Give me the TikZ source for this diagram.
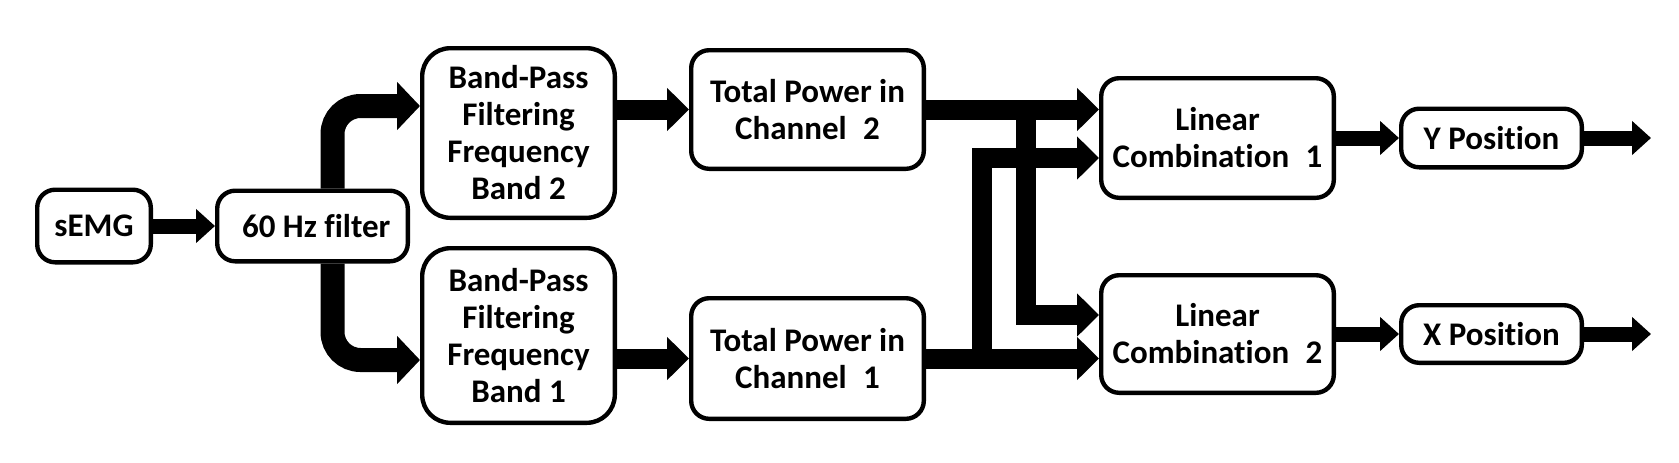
\documentclass[tikz,border=0pt]{standalone}
\usepackage{fontspec}
\setmainfont{Carlito}[Ligatures=NoCommon]
\usepackage{tikz}
\usetikzlibrary{positioning,arrows.meta}

\begin{document}
\begin{tikzpicture}[
  blk/.style={draw, line width=2.2pt, rounded corners=9pt, align=center, inner sep=2pt, font=\fontsize{16.5}{18.5}\selectfont\bfseries},
  bigblk/.style={blk, rounded corners=14pt, minimum width=96.3pt},
  fork/.style={line width=12pt, rounded corners=14pt, -{Triangle[length=11.5pt, width=23.5pt]}},
  fat/.style={line width=10pt, -{Triangle[length=11pt, width=21pt]}},
  slim/.style={line width=7.5pt, -{Triangle[length=9.5pt, width=16.5pt]}}
]
\useasboundingbox (0,0) rectangle (839.5pt,-231pt);

\node[blk, minimum width=56.8pt, minimum height=36.3pt] (semg) at (47pt,-113pt) {sEMG};
\node[blk, minimum width=95.3pt, minimum height=35.3pt, right=31pt of semg] (notch) {\ 60 Hz filter};
\node[bigblk, minimum height=84.8pt, right=5pt of notch, yshift=46.5pt] (bp2) {Band-Pass\\Filtering\\Frequency\\Band 2};
\node[bigblk, minimum height=87.3pt, below=13pt of bp2] (bp1) {Band-Pass\\Filtering\\Frequency\\Band 1};
\node[blk, minimum width=116.3pt, minimum height=59.3pt, right=36pt of bp2, yshift=11.75pt] (tp2) {Total Power in\\Channel\enspace2};
\node[blk, minimum width=116.3pt, minimum height=60.3pt, below=62.5pt of tp2] (tp1) {Total Power in\\Channel\enspace1};
\node[blk, minimum width=116.3pt, minimum height=59.8pt, right=86.5pt of tp2, yshift=-14.25pt] (lc1) {Linear\\Combination\enspace1};
\node[blk, minimum width=116.3pt, minimum height=58.8pt, below=36.5pt of lc1] (lc2) {Linear\\Combination\enspace2};
\node[blk, minimum width=90.3pt, minimum height=29.3pt, right=31.5pt of lc1] (ypos) {Y Position};
\node[blk, minimum width=90.3pt, minimum height=28.8pt, right=31.5pt of lc2] (xpos) {X Position};

\coordinate (j2) at ([xshift=50pt]tp2.east);
\coordinate (j1) at ([xshift=28pt]tp1.east);
\coordinate (yend) at ([xshift=33.5pt]ypos.east);
\coordinate (xend) at ([xshift=33.5pt]xpos.east);

\draw[slim] (semg) -- (notch);
\draw[fork] ([xshift=10pt]notch.north) |- ([yshift=13.5pt]bp2.west);
\draw[fork] ([xshift=10pt]notch.south) |- ([yshift=-12.25pt]bp1.west);
\draw[fat] (bp2.east |- tp2.west) -- (tp2.west);
\draw[fat] (bp1.east |- tp1.west) -- (tp1.west);
\draw[fat] (tp2.east) -- (tp2.east -| lc1.west);
\draw[fat] (tp1.east) -- (tp1.east -| lc2.west);
\draw[fat] (j2) |- ([yshift=9.5pt]lc2.west);
\draw[fat] (j1) |- ([yshift=-10pt]lc1.west);
\draw[slim] (lc1) -- (ypos);
\draw[slim] (lc2) -- (xpos);
\draw[slim] (ypos) -- (yend);
\draw[slim] (xpos) -- (xend);
\end{tikzpicture}
\end{document}
